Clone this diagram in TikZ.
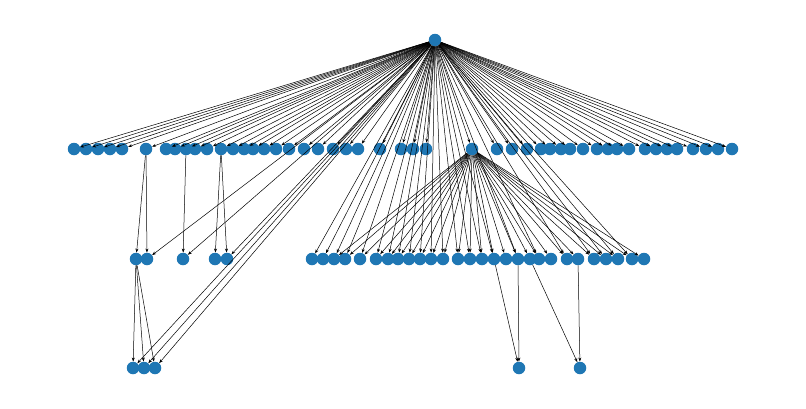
\documentclass[tikz,border=0pt]{standalone}
\usetikzlibrary{arrows.meta}
\definecolor{nx}{HTML}{1F77B4}
\begin{document}
\begin{tikzpicture}[x=1pt,y=-1pt,
  vtx/.style={circle,fill=nx,minimum size=12.5pt,inner sep=0pt},
  edge/.style={-{Stealth[length=4pt,width=3pt]},line width=0.5pt}]
\useasboundingbox (0,0) rectangle (806,408);
\node[vtx] (r) at (435,40) {};
\foreach \x [count=\i] in {74,86,98,110,122,146,166,175,186,195,207,221,233,244,253,264,276,289,304,318,333,346,358,380,401,413,426,472,497,512,527,541,550,561,570,583,597,608,617,629,645,656,667,677,693,706,718,732}
  \node[vtx] (a\x) at (\x,149) {};
\foreach \x in {136,147,183,215,227,312,323,334,345,360,376,388,398,409,420,431,443,458,470,482,494,506,518,530,539,551,567,578,594,606,618,632,644}
  \node[vtx] (b\x) at (\x,259) {};
\foreach \x in {133,144,155,519,580}
  \node[vtx] (c\x) at (\x,368) {};
% root to level 1
\foreach \x in {74,86,98,110,122,146,166,175,186,195,207,221,233,244,253,264,276,289,304,318,333,346,358,380,401,413,426,472,497,512,527,541,550,561,570,583,597,608,617,629,645,656,667,677,693,706,718,732}
  \draw[edge] (r) -- (a\x);
% level 1 to level 2
\draw[edge] (a146) -- (b136);
\draw[edge] (a146) -- (b147);
\draw[edge] (a186) -- (b183);
\draw[edge] (a221) -- (b215);
\draw[edge] (a221) -- (b227);
\foreach \x in {334,345,360,376,388,398,409,420,431,443,458,470,482,494,506,518,530,539,551,567,578,594,606,618,632,644}
  \draw[edge] (a472) -- (b\x);
% root to level 2
\foreach \x in {147,183,227,312,323,334,345,360,376,388,398,409,420,431,443,458,470,482,494,518,539,567,594,606,618,632}
  \draw[edge] (r) -- (b\x);
% to level 3
\draw[edge] (b136) -- (c133);
\draw[edge] (b136) -- (c144);
\draw[edge] (b136) -- (c155);
\draw[edge] (r) -- (c144);
\draw[edge] (r) -- (c155);
\draw[edge] (r) -- (c133);
\draw[edge] (b494) -- (c519);
\draw[edge] (b518) -- (c519);
\draw[edge] (b530) -- (c580);
\draw[edge] (b578) -- (c580);
\end{tikzpicture}
\end{document}
